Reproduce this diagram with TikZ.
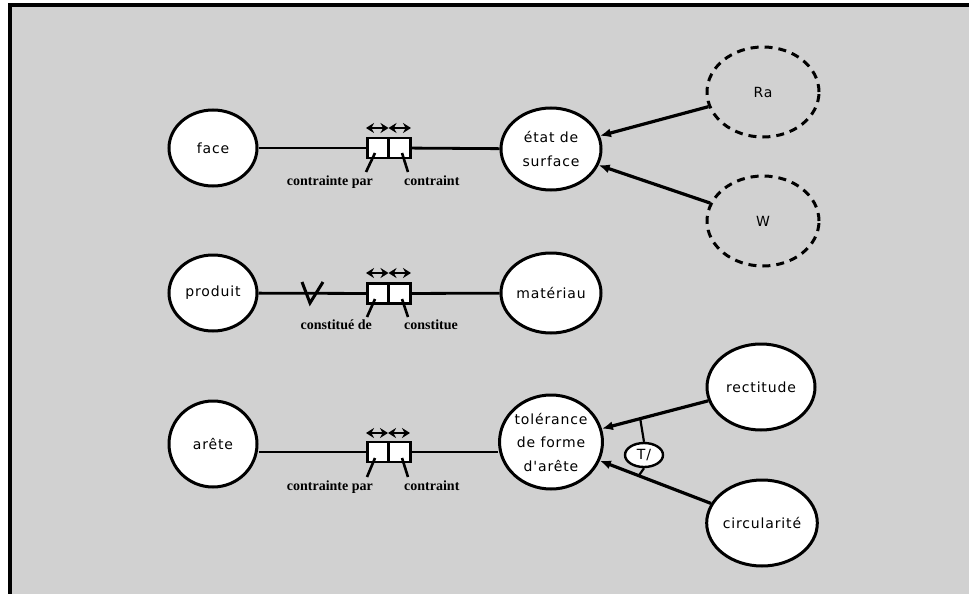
\documentclass[tikz,border=0pt]{standalone}
\usepackage{fontspec}
\newfontfamily\genev[LetterSpace=6]{DejaVu Sans}
\newfontfamily\lblserif{Liberation Serif}
\usetikzlibrary{shapes.geometric,arrows.meta}
\tikzset{
  ent/.style={ellipse, draw, fill=white, line width=3pt, inner sep=0pt,
    align=center, font=\genev\fontsize{14}{23.5}\selectfont},
  opt/.style={ent, dashed, dash pattern=on 8pt off 6pt, fill=none},
  half/.style={rectangle, draw, fill=white, line width=2.6pt, minimum width=21.5pt, minimum height=20pt, inner sep=0pt},
  link/.style={line width=2.8pt},
  arr/.style={line width=3.2pt, -{Latex[length=11pt,width=9pt]}},
  tick/.style={line width=2.6pt},
  dbl/.style={line width=2.4pt, {Stealth[length=8pt,width=10pt]}-{Stealth[length=8pt,width=10pt]}},
  lbl/.style={font=\lblserif\bfseries\fontsize{14}{14}\selectfont, inner sep=0pt}
}
\begin{document}
\begin{tikzpicture}[x=1pt,y=-1pt]
\useasboundingbox (0,0) rectangle (969,594);
\fill[white] (0,0) rectangle (969,594);
\fill[black!18] (10,5) rectangle (969,594);
\draw[line width=3.5pt] (10,594) -- (10,5) -- (969,5);

% ---------- row 1 ----------
\node[ent, minimum width=88pt, minimum height=76pt] (face) at (213,148) {face};
\node[ent, minimum width=100pt, minimum height=82pt] (etat) at (551,149) {état de\\surface};
\node[opt, minimum width=112pt, minimum height=90pt] (ra) at (763,92) {Ra};
\node[opt, minimum width=112pt, minimum height=90pt] (w) at (763,221) {W};
\node[half] (b1l) at (378,148) {};
\node[half] (b1r) at (399.5,148) {};
\draw[link] (face) -- (b1l);
\draw[link] (b1r) -- (etat);
\coordinate (d1a) at (366,128); \coordinate (d1b) at (388.5,128); \coordinate (d1c) at (411,128);
\draw[dbl] (d1a) -- (d1b);
\draw[dbl] (d1b) -- (d1c);
\coordinate (t1a) at (375,153); \coordinate (t1b) at (366,172);
\coordinate (t1c) at (402,153); \coordinate (t1d) at (408,172);
\draw[tick] (t1a) -- (t1b);
\draw[tick] (t1c) -- (t1d);
\node[lbl, anchor=north east] (l1a) at (373,176) {contrainte par};
\node[lbl, anchor=north west] (l1b) at (404,176) {contraint};
\draw[arr] (ra) -- (etat);
\draw[arr] (w) -- (etat);

% ---------- row 2 ----------
\node[ent, minimum width=88pt, minimum height=76pt] (produit) at (213,293) {produit};
\node[ent, minimum width=100pt, minimum height=80pt] (materiau) at (551,293) {matériau};
\node[half] (b2l) at (378,293.5) {};
\node[half] (b2r) at (399.5,293.5) {};
\draw[link] (produit) -- (b2l);
\draw[link] (b2r) -- (materiau);
\coordinate (v1) at (302,282); \coordinate (v2) at (310,303); \coordinate (v3) at (323,282);
\draw[line width=3pt] (v1) -- (v2) -- (v3);
\coordinate (d2a) at (366,273); \coordinate (d2b) at (388.5,273); \coordinate (d2c) at (411,273);
\draw[dbl] (d2a) -- (d2b);
\draw[dbl] (d2b) -- (d2c);
\coordinate (t2a) at (375,299); \coordinate (t2b) at (367,317);
\coordinate (t2c) at (402,299); \coordinate (t2d) at (408,317);
\draw[tick] (t2a) -- (t2b);
\draw[tick] (t2c) -- (t2d);
\node[lbl, anchor=north east] (l2a) at (372,320) {constitué de};
\node[lbl, anchor=north west] (l2b) at (404,320) {constitue};

% ---------- row 3 ----------
\node[ent, minimum width=88pt, minimum height=86pt] (arete) at (213,444) {arête};
\node[ent, minimum width=100pt, minimum height=94pt] (tol) at (551,442) {tolérance\\de forme\\d'arête};
\node[ent, minimum width=108pt, minimum height=86pt] (rect) at (761,387) {rectitude};
\node[ent, minimum width=108pt, minimum height=86pt] (circ) at (762,523) {circularité};
\node[half] (b3l) at (378,452) {};
\node[half] (b3r) at (399.5,452) {};
\draw[link] (arete.east |- b3l) -- (b3l);
\draw[link] (b3r) -- (b3r -| tol.west);
\coordinate (d3a) at (366,433); \coordinate (d3b) at (388,433); \coordinate (d3c) at (410,433);
\draw[dbl] (d3a) -- (d3b);
\draw[dbl] (d3b) -- (d3c);
\coordinate (t3a) at (375,458); \coordinate (t3b) at (367,477);
\coordinate (t3c) at (402,458); \coordinate (t3d) at (408,477);
\draw[tick] (t3a) -- (t3b);
\draw[tick] (t3c) -- (t3d);
\node[lbl, anchor=north east] (l3a) at (373,481) {contrainte par};
\node[lbl, anchor=north west] (l3b) at (404,481) {contraint};
\draw[arr] (rect) -- (tol) coordinate[pos=0.64] (ta);
\draw[arr] (circ) -- (tol) coordinate[pos=0.65] (tb);
\node[ellipse, draw, fill=white, line width=2.4pt, minimum width=38pt, minimum height=24pt, inner sep=0pt, font=\genev\fontsize{14}{14}\selectfont] (tor) at (644,455) {T/};
\draw[line width=2.2pt] (ta) -- (tor.north);
\draw[line width=2.2pt] (tor.south) -- (tb);
\end{tikzpicture}
\end{document}
